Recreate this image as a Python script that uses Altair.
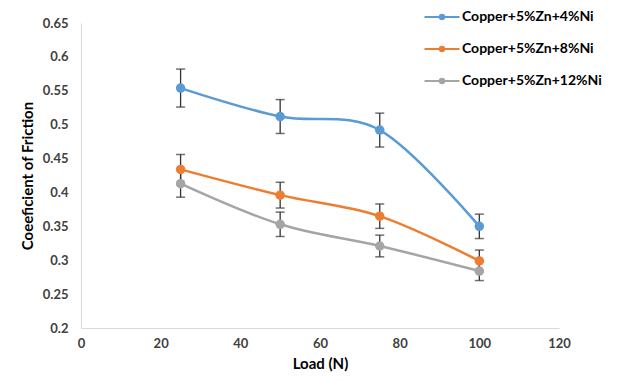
import altair as alt
import pandas as pd

series_names = ["Copper+5%Zn+4%Ni", "Copper+5%Zn+8%Ni", "Copper+5%Zn+12%Ni"]
loads = [25, 50, 75, 100]
cof_4ni = [0.554, 0.512, 0.492, 0.350]
cof_8ni = [0.434, 0.396, 0.365, 0.299]
cof_12ni = [0.413, 0.353, 0.321, 0.284]
err_4ni = [0.028, 0.025, 0.025, 0.018]
err_8ni = [0.022, 0.019, 0.018, 0.016]
err_12ni = [0.020, 0.018, 0.016, 0.014]
x_ticks = [0, 20, 40, 60, 80, 100, 120]
y_ticks = [0.2, 0.25, 0.3, 0.35, 0.4, 0.45, 0.5, 0.55, 0.6, 0.65]
colors = ["#5b9bd5", "#ed7d31", "#a5a5a5"]

rows = []
for name, vals, errs in zip(series_names, [cof_4ni, cof_8ni, cof_12ni], [err_4ni, err_8ni, err_12ni]):
    for l, v, e in zip(loads, vals, errs):
        rows.append({"series": name, "load": l, "cof": v, "lo": v - e, "hi": v + e})
df = pd.DataFrame(rows)

FONT = "Lato"
TXT = "#404040"

xscale = alt.Scale(domain=[0, 120], nice=False)
yscale = alt.Scale(domain=[0.2, 0.65], nice=False, zero=False)
xaxis = alt.Axis(values=x_ticks, labelPadding=9, titlePadding=6)
yaxis = alt.Axis(values=y_ticks, format=".2~f", labelPadding=13, titlePadding=7)
XT = "Load (N)"
YT = "Coeeficient of Friction"

def X(f):
    return alt.X(f, title=XT, scale=xscale, axis=xaxis)

def Y(f):
    return alt.Y(f, title=YT, scale=yscale, axis=yaxis)

cscale = alt.Scale(domain=series_names, range=colors)

legend = alt.Legend(
    title=None, orient="none", legendX=350, legendY=-17,
    symbolType="M-1.75,0L1.75,0M0.22,0A0.22,0.22,0,1,1,-0.22,0A0.22,0.22,0,1,1,0.22,0",
    symbolSize=400, symbolStrokeWidth=2,
    labelFont=FONT, labelFontWeight="bold", labelFontSize=14, labelColor="#000000",
    labelOffset=9, rowPadding=14, labelLimit=300,
)

base = alt.Chart(df)

lines = base.mark_line(strokeWidth=2.5, interpolate="cardinal").encode(
    x=X("load:Q"), y=Y("cof:Q"),
    color=alt.Color("series:N", scale=cscale, legend=legend),
    detail="series:N")

rules = base.mark_rule(color="#333333", strokeWidth=1.3).encode(
    x=X("load:Q"), y=Y("lo:Q"), y2="hi:Q")
caps_lo = base.mark_tick(color="#333333", orient="horizontal", size=9, thickness=1.5).encode(
    x=X("load:Q"), y=Y("lo:Q"))
caps_hi = base.mark_tick(color="#333333", orient="horizontal", size=9, thickness=1.5).encode(
    x=X("load:Q"), y=Y("hi:Q"))

points = base.mark_point(filled=True, size=90, opacity=1, strokeWidth=0).encode(
    x=X("load:Q"), y=Y("cof:Q"),
    color=alt.Color("series:N", scale=cscale, legend=legend))

chart = alt.layer(lines, rules, caps_lo, caps_hi, points).properties(
    width=478, height=305,
    autosize=alt.AutoSizeParams(type="none"),
    padding={"left": 81, "top": 23, "right": 76, "bottom": 53},
    background="white",
).configure_view(stroke=None).configure_axis(
    grid=False, ticks=False, domainColor="#d9d9d9", domainWidth=1,
    labelFont=FONT, labelFontWeight="bold", labelFontSize=13, labelColor=TXT,
    labelFlush=False, labelOverlap=False,
    titleFont=FONT, titleFontWeight="bold", titleFontSize=15, titleColor="#000000",
)

chart.save("out.html", embed_options={"renderer": "svg", "actions": False})
